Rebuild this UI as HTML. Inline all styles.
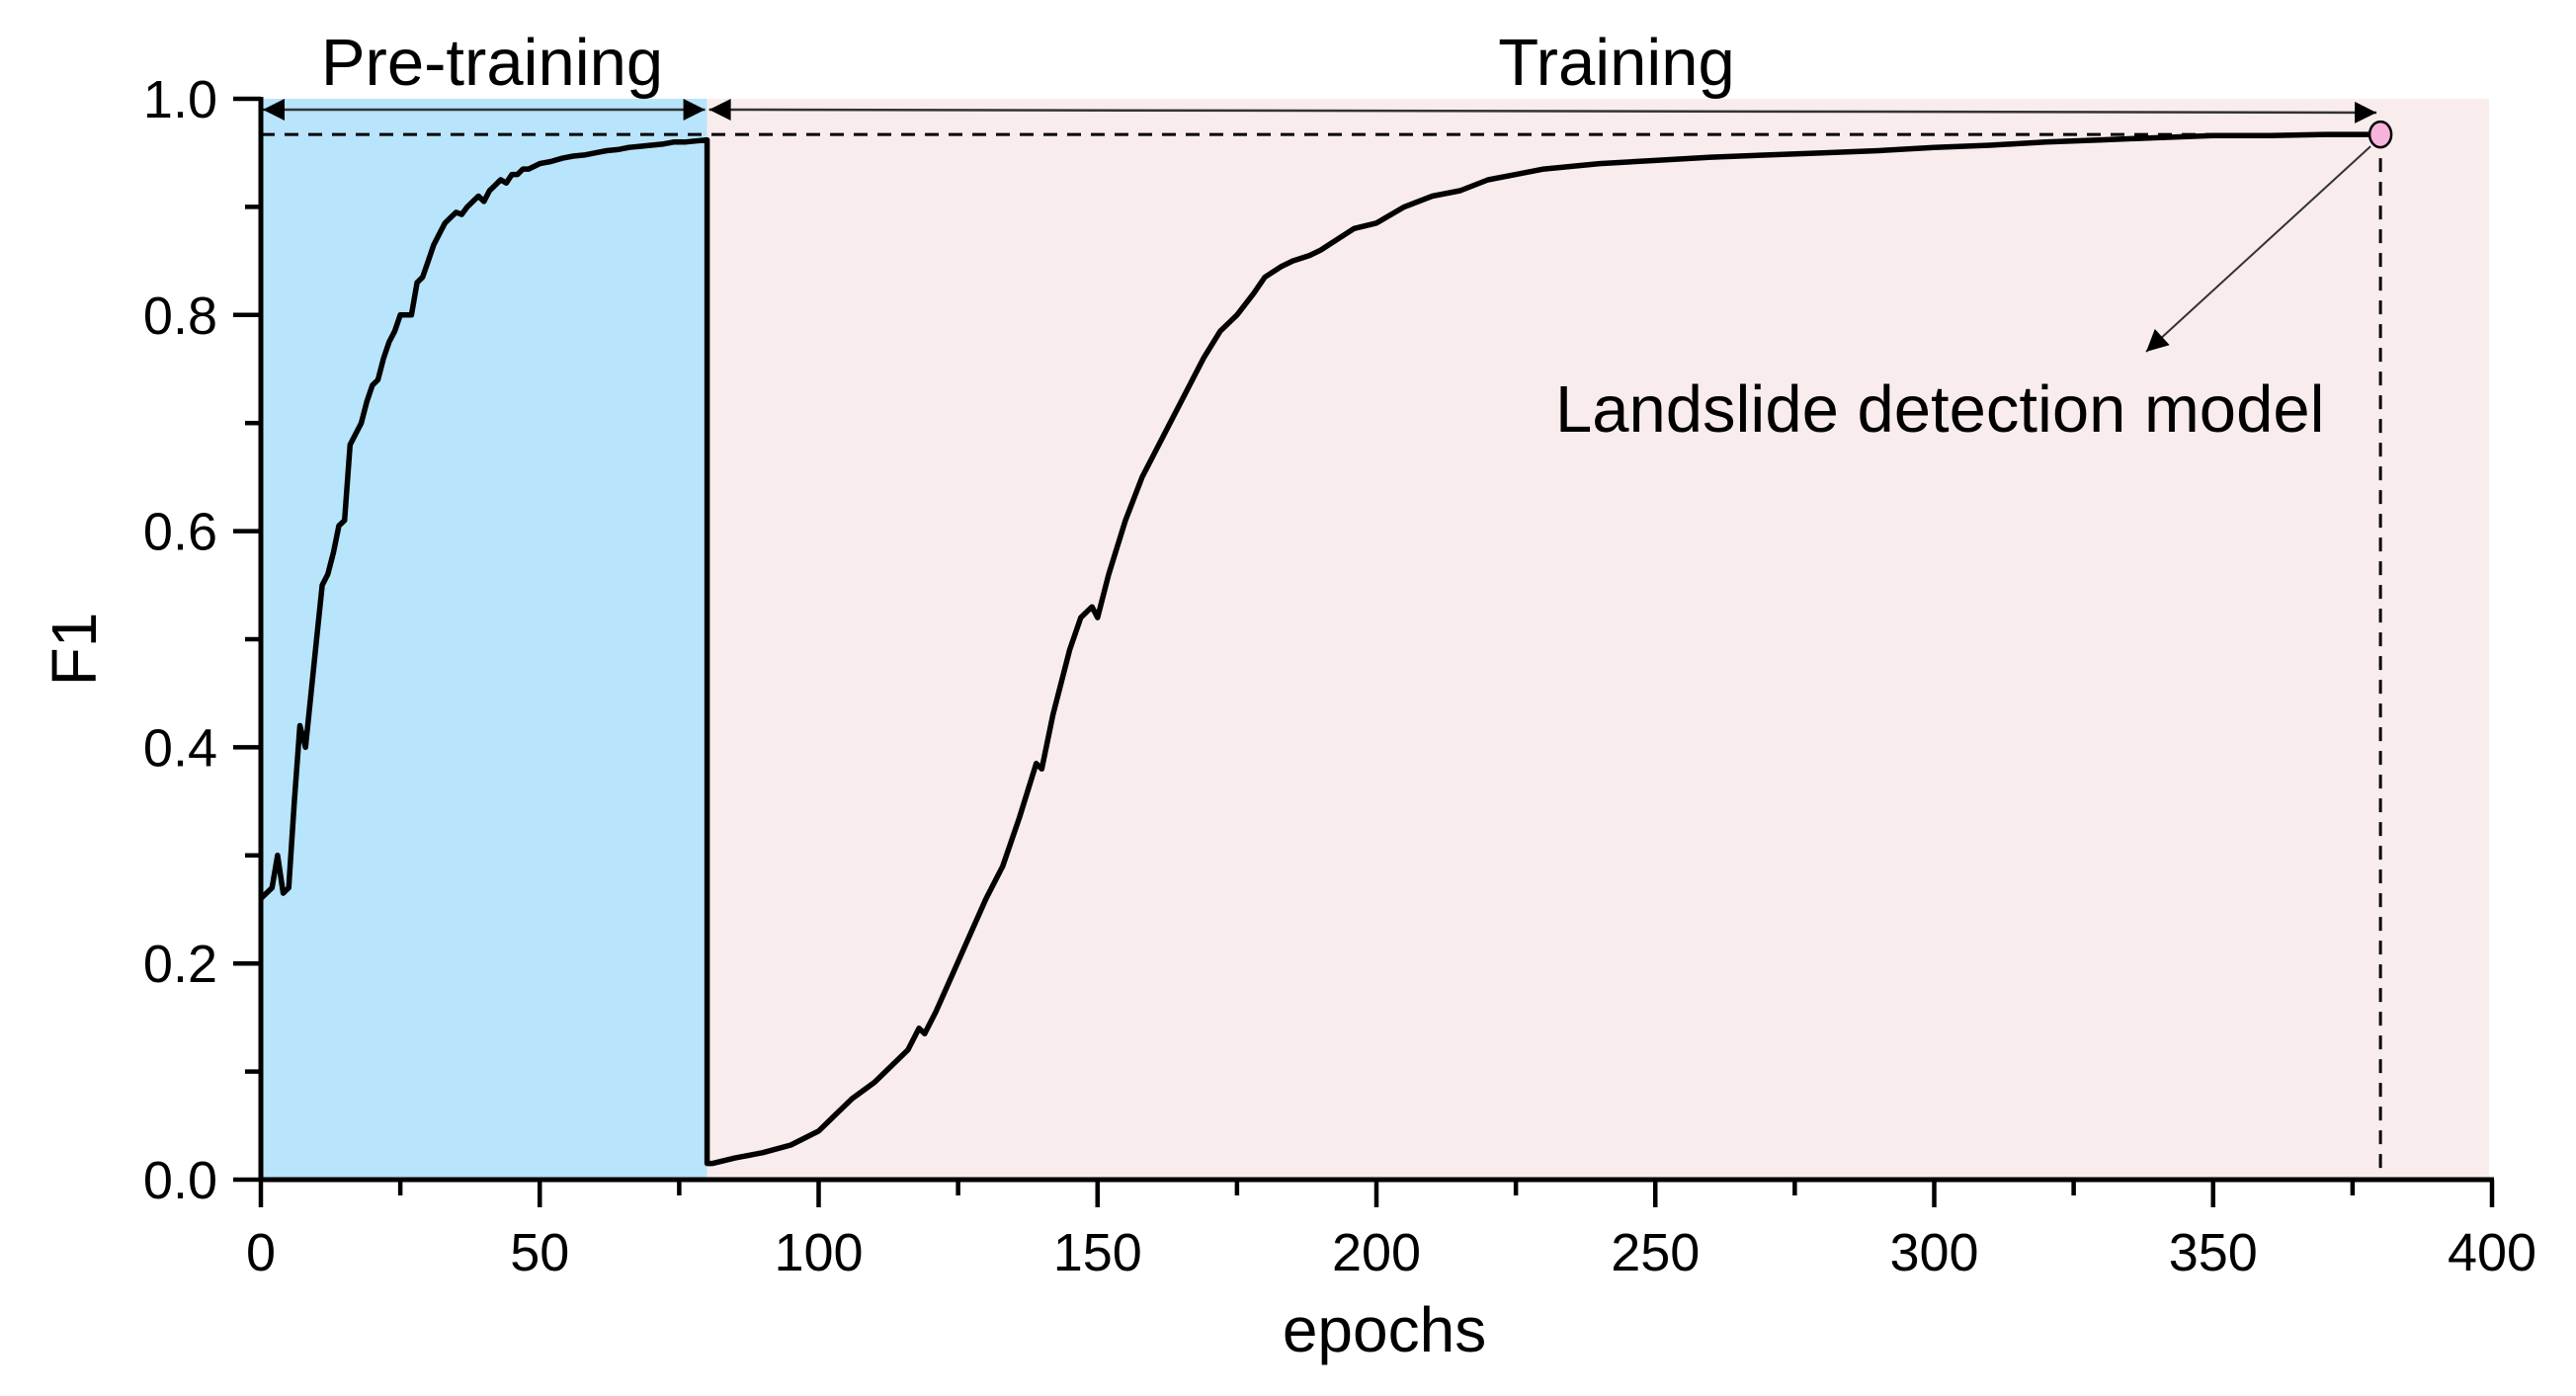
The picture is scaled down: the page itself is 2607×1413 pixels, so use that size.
<!DOCTYPE html>
<html><head><meta charset="utf-8">
<style>
html,body{margin:0;padding:0;background:#fff;}
svg{display:block;font-family:"Liberation Sans",Arial,sans-serif;}
</style></head>
<body>
<svg id="chart" width="2607" height="1413" viewBox="0 0 2607 1413">
<defs>
<marker id="ahBig" viewBox="0 0 10 10" refX="10" refY="5" markerWidth="36" markerHeight="22" markerUnits="userSpaceOnUse" orient="auto-start-reverse">
<path d="M0,0 L10,5 L0,10 z" fill="#000"/>
</marker>
</defs>
<g id="layer"></g>
</svg>
<script>
const preEpochs = [0,1,2,3,4,5,6,7,8,9,10,11,12,13,14,15,16,17,18,19,20,21,22,23,24,25,26,27,28,29,30,31,32,33,34,35,36,37,38,39,40,41,42,43,44,45,46,47,48,50,52,54,56,58,60,62,64,66,68,70,72,74,76,78,80];
const preF1 = [0.26,0.265,0.27,0.30,0.265,0.27,0.35,0.42,0.40,0.45,0.50,0.55,0.56,0.58,0.605,0.61,0.68,0.69,0.70,0.72,0.735,0.74,0.76,0.775,0.785,0.80,0.80,0.80,0.83,0.835,0.85,0.865,0.875,0.885,0.89,0.895,0.893,0.90,0.905,0.91,0.905,0.915,0.92,0.925,0.922,0.93,0.93,0.935,0.935,0.94,0.942,0.945,0.947,0.948,0.95,0.952,0.953,0.955,0.956,0.957,0.958,0.96,0.96,0.961,0.962];
const trainEpochs = [81,85,90,95,100,103,106,110,113,116,118,119,121,124,127,130,133,136,139,140,142,145,147,149,150,152,155,158,160,163,166,169,172,175,178,180,183,185,188,190,193,196,200,205,210,215,220,225,230,240,250,260,270,280,290,300,310,320,330,340,350,360,370,380];
const trainF1 = [0.015,0.02,0.025,0.032,0.045,0.06,0.075,0.09,0.105,0.12,0.14,0.135,0.155,0.19,0.225,0.26,0.29,0.335,0.385,0.38,0.43,0.49,0.52,0.53,0.52,0.56,0.61,0.65,0.67,0.70,0.73,0.76,0.785,0.80,0.82,0.835,0.845,0.85,0.855,0.86,0.87,0.88,0.885,0.90,0.91,0.915,0.925,0.93,0.935,0.94,0.943,0.946,0.948,0.95,0.952,0.955,0.957,0.96,0.962,0.964,0.966,0.966,0.967,0.967];
const xTicks = [0,50,100,150,200,250,300,350,400];
const yTicks = [0.0,0.2,0.4,0.6,0.8,1.0];
const yTickLabels = ["0.0","0.2","0.4","0.6","0.8","1.0"];
const bestEpoch = 380, bestF1 = 0.967, splitEpoch = 80;

const X0=264, X1=2522, Y0=1194, Y1=100;
const sx = v => X0 + (v/400)*(X1-X0);
const sy = v => Y0 - v*(Y0-Y1);
const NS="http://www.w3.org/2000/svg";
const g = document.getElementById('layer');
function mk(tag, attrs, parent){const e=document.createElementNS(NS,tag);for(const k in attrs)e.setAttribute(k,attrs[k]);(parent||g).appendChild(e);return e;}

let e;
e = mk('rect',{x:sx(0),y:sy(1),width:sx(splitEpoch)-sx(0),height:sy(0)-sy(1),fill:'#b8e4fc'});


e = mk('rect',{x:sx(splitEpoch),y:sy(1),width:sx(399.5)-sx(splitEpoch),height:sy(0)-sy(1),fill:'#f9ecec'});



e = mk('line',{x1:sx(0),y1:sy(bestF1),x2:sx(bestEpoch),y2:sy(bestF1),stroke:'#000','stroke-width':3,'stroke-dasharray':'14,10'});


e = mk('line',{x1:sx(bestEpoch),y1:sy(bestF1),x2:sx(bestEpoch),y2:sy(0),stroke:'#000','stroke-width':3,'stroke-dasharray':'14,10'});



let d='';
preEpochs.forEach((x,i)=>{d+=(i?'L':'M')+sx(x).toFixed(1)+','+sy(preF1[i]).toFixed(1);});
d+='L'+sx(splitEpoch).toFixed(1)+','+sy(trainF1[0]).toFixed(1);
trainEpochs.forEach((x,i)=>{d+='L'+sx(x).toFixed(1)+','+sy(trainF1[i]).toFixed(1);});
e = mk('path',{d:d,fill:'none',stroke:'#000','stroke-width':5.5,'stroke-linejoin':'round'});



const arrowY = sy(0.99);
e = mk('line',{x1:sx(0)+2,y1:arrowY,x2:sx(splitEpoch)-2,y2:arrowY,stroke:'#333','stroke-width':2.5,'marker-start':'url(#ahBig)','marker-end':'url(#ahBig)'});


e = mk('line',{x1:sx(splitEpoch)+2,y1:arrowY,x2:sx(bestEpoch)-4,y2:arrowY+3,stroke:'#333','stroke-width':2.5,'marker-start':'url(#ahBig)','marker-end':'url(#ahBig)'});


e = mk('line',{x1:sx(bestEpoch)-10,y1:sy(bestF1)+12,x2:2172,y2:356,stroke:'#333','stroke-width':2,'marker-end':'url(#ahBig)'});



e = mk('ellipse',{cx:sx(bestEpoch),cy:sy(bestF1),rx:11,ry:13,fill:'#f7b3dc',stroke:'#000','stroke-width':2.5});



e = mk('line',{x1:X0,y1:Y1-2,x2:X0,y2:Y0+2,stroke:'#000','stroke-width':5});


e = mk('line',{x1:X0-2,y1:Y0,x2:X1+2,y2:Y0,stroke:'#000','stroke-width':5});



for(let v=0; v<=400; v+=25){
  const major = v%50===0;
  e = mk('line',{x1:sx(v),y1:Y0,x2:sx(v),y2:Y0+(major?28:16),stroke:'#000','stroke-width':4.5});
  
  
}
xTicks.forEach(v=>{
  e = mk('text',{x:sx(v),y:1286,'text-anchor':'middle','font-size':54,fill:'#000'});
  e.textContent = v;
  
  
});
for(let k=0;k<=10;k++){
  const v=k/10, major=k%2===0;
  e = mk('line',{x1:X0,y1:sy(v),x2:X0-(major?28:16),y2:sy(v),stroke:'#000','stroke-width':4.5});
  
  
}
yTicks.forEach((v,i)=>{
  e = mk('text',{x:220,y:sy(v)+19,'text-anchor':'end','font-size':54,fill:'#000'});
  e.textContent = yTickLabels[i];
  
  
});

e = mk('text',{x:(X0+X1)/2+8,y:1368,'text-anchor':'middle','font-size':64,fill:'#000'});
e.textContent='epochs';


e = mk('text',{x:97,y:(Y0+Y1)/2+10,'text-anchor':'middle','font-size':64,fill:'#000',transform:'rotate(-90 97 '+((Y0+Y1)/2+10)+')'});
e.textContent='F1';



e = mk('text',{x:498,y:86,'text-anchor':'middle','font-size':67,fill:'#000'});
e.textContent='Pre-training';


e = mk('text',{x:1636,y:86,'text-anchor':'middle','font-size':67,fill:'#000'});
e.textContent='Training';


e = mk('text',{x:1574,y:437,'font-size':67,fill:'#000'});
e.textContent='Landslide detection model';


</script>
</body></html>
